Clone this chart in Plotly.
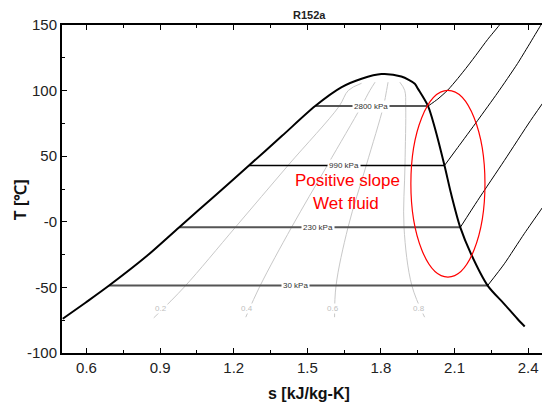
import plotly.graph_objects as go

# ---------------- data ----------------
# saturation dome: liquid branch then vapor branch  (s [kJ/kg-K], T [C])
liq_s = [0.503, 0.597, 0.692, 0.843, 0.978, 1.127, 1.262, 1.397, 1.532, 1.640, 1.721, 1.802]
liq_T = [-73.9, -61.5, -48.6, -26.5, -4.1, 20.5, 42.9, 65.5, 88.2, 102.6, 109.0, 112.6]
vap_s = [1.883, 1.938, 1.951, 1.992, 2.019, 2.059, 2.086, 2.123, 2.167, 2.235, 2.302, 2.356, 2.386]
vap_T = [110.7, 105.2, 101.3, 88.2, 72.1, 42.9, 21.3, -4.1, -24.4, -48.6, -62.5, -73.9, -79.8]

# isobars
p_labels = ["2800 kPa", "990 kPa", "230 kPa", "30 kPa"]
p_Tsat = [88.2, 42.9, -4.1, -48.6]
p_s_liq = [1.532, 1.262, 0.978, 0.692]
p_label_s = [1.760, 1.651, 1.542, 1.451]
p_colors = ["#555555", "#000000", "#555555", "#555555"]
p_widths = [2.0, 1.5, 2.0, 2.0]
# superheated parts of the isobars
sup_s = [
    [1.992, 2.032, 2.073, 2.113, 2.154, 2.194, 2.235, 2.282, 2.296],
    [2.059, 2.113, 2.194, 2.275, 2.357, 2.451, 2.462],
    [2.124, 2.194, 2.303, 2.410, 2.490],
    [2.235, 2.303, 2.384, 2.490],
]
sup_T = [
    [88.2, 93.6, 100.5, 109.2, 118.8, 128.7, 139.0, 149.7, 153.0],
    [42.9, 56.6, 77.2, 98.2, 120.7, 149.7, 153.1],
    [-4.1, 16.2, 46.7, 77.2, 98.6],
    [-48.6, -32.0, -9.1, 19.3],
]

# constant-quality lines
q_labels = ["0.2", "0.4", "0.6", "0.8"]
q_s = [
    [0.874, 0.998, 1.207, 1.421, 1.629, 1.667, 1.721],
    [1.249, 1.308, 1.436, 1.581, 1.720, 1.755, 1.776],
    [1.611, 1.617, 1.666, 1.740, 1.810, 1.823, 1.829],
    [1.978, 1.926, 1.894, 1.898, 1.901, 1.897, 1.877],
]
q_T = [
    [-73.2, -49.8, -4.1, 42.9, 87.9, 100.1, 105.6],
    [-72.7, -48.6, -4.1, 42.9, 87.9, 100.1, 106.4],
    [-72.7, -48.6, -4.1, 42.9, 87.9, 100.1, 106.4],
    [-72.7, -48.6, -4.1, 42.9, 87.9, 100.1, 106.4],
]
q_label_s = [0.904, 1.253, 1.604, 1.954]
q_label_T = [-65.9, -65.9, -65.9, -65.9]

x_ticks = [0.6, 0.9, 1.2, 1.5, 1.8, 2.1, 2.4]
y_ticks = [150, 100, 50, 0, -50, -100]
y_ticktext = ["150", "100", "50", "-0", "-50", "-100"]

ellipse_s = [1.922, 2.224]
ellipse_T = [-42.1, 100.1]

FONT = "Liberation Sans, Arial, sans-serif"

fig = go.Figure()

# quality lines
for s, T in zip(q_s, q_T):
    fig.add_trace(go.Scatter(x=s, y=T, mode="lines", line=dict(color="#c8c8c8", width=1, shape="spline"),
                             hoverinfo="skip", showlegend=False))

# isobars in the two-phase region and superheated
for i in range(len(p_labels)):
    fig.add_trace(go.Scatter(x=[p_s_liq[i], sup_s[i][0]], y=[p_Tsat[i], p_Tsat[i]], mode="lines",
                             line=dict(color=p_colors[i], width=p_widths[i]), showlegend=False, hoverinfo="skip"))
    fig.add_trace(go.Scatter(x=sup_s[i], y=sup_T[i], mode="lines",
                             line=dict(color="#000000", width=1, shape="spline", smoothing=0.6),
                             showlegend=False, hoverinfo="skip", cliponaxis=True))

# dome
fig.add_trace(go.Scatter(x=liq_s + vap_s, y=liq_T + vap_T, mode="lines",
                         line=dict(color="#000000", width=2, shape="spline", smoothing=0.8),
                         showlegend=False, hoverinfo="skip"))

# isobar labels
for i in range(len(p_labels)):
    fig.add_annotation(x=p_label_s[i], y=p_Tsat[i], text=p_labels[i], showarrow=False,
                       font=dict(family=FONT, size=8, color="#333333"), bgcolor="white", borderpad=1)

# quality labels
for i in range(len(q_labels)):
    fig.add_annotation(x=q_label_s[i], y=q_label_T[i], text=q_labels[i], showarrow=False,
                       font=dict(family=FONT, size=8, color="#c0c0c0"), bgcolor="white", borderpad=0)

# ellipse
fig.add_shape(type="circle", xref="x", yref="y", x0=ellipse_s[0], x1=ellipse_s[1],
              y0=ellipse_T[0], y1=ellipse_T[1], line=dict(color="red", width=1.2))

fig.add_annotation(x=1.663, y=31.5, text="Positive slope", showarrow=False,
                   font=dict(family=FONT, size=17, color="red"))
fig.add_annotation(x=1.656, y=13.7, text="Wet fluid", showarrow=False,
                   font=dict(family=FONT, size=17, color="red"))

# titles as annotations
fig.add_annotation(xref="paper", yref="paper", x=0.508, y=1.030, text="<b>R152a</b>", showarrow=False,
                   font=dict(family=FONT, size=11, color="#222222"), yanchor="middle")
fig.add_annotation(xref="paper", yref="paper", x=0.508, y=-0.122, text="<b>s [kJ/kg-K]</b>", showarrow=False,
                   font=dict(family=FONT, size=16, color="#111111"), yanchor="middle")
fig.add_annotation(xref="paper", yref="paper", x=-0.086, y=0.466, text="<b>T [℃]</b>", showarrow=False,
                   textangle=-90, font=dict(family=FONT, size=16, color="#111111"),
                   xanchor="center", yanchor="middle")

# the page body has an 8px margin: size the figure so that it fits the 550x405 window
fig.update_layout(
    width=542, height=397,
    margin=dict(l=54, r=1, t=17, b=52),
    paper_bgcolor="white", plot_bgcolor="white",
    font=dict(family=FONT, color="#222222"),
)

fig.update_xaxes(range=[0.5, 2.485], tickvals=x_ticks, ticktext=[f"{v:.1f}" for v in x_ticks],
                 automargin=False,
                 showgrid=False, zeroline=False, showline=True, linecolor="black", linewidth=2,
                 mirror="ticks", ticks="inside", ticklen=5, tickcolor="black", tickwidth=1,
                 minor=dict(ticks="inside", ticklen=3, tickcolor="black", dtick=0.15, tick0=0.45),
                 tickfont=dict(family=FONT, size=15, color="#222222"))
fig.update_yaxes(range=[-100, 150], tickvals=y_ticks, ticktext=y_ticktext,
                 automargin=False,
                 showgrid=False, zeroline=False, showline=True, linecolor="black", linewidth=2,
                 mirror="ticks", ticks="inside", ticklen=5, tickcolor="black", tickwidth=1,
                 minor=dict(ticks="inside", ticklen=3, tickcolor="black", dtick=25, tick0=-125),
                 tickfont=dict(family=FONT, size=15, color="#222222"))

fig.write_html("out.html")
